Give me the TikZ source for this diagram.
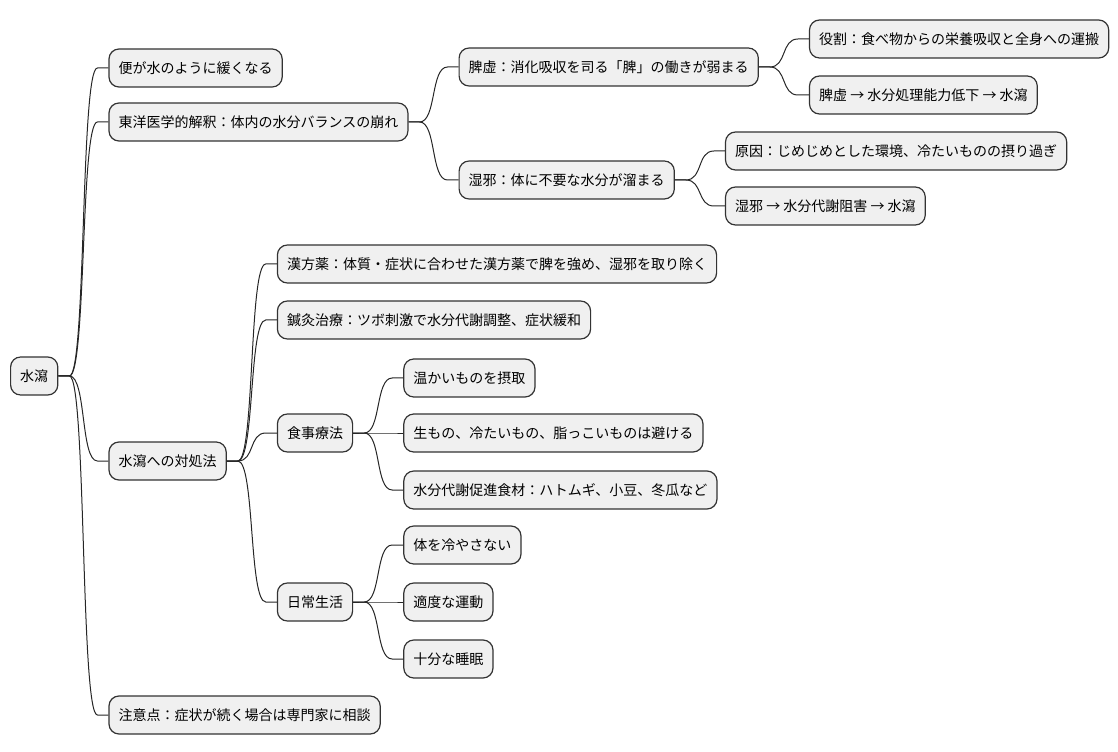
\documentclass[tikz,border=0pt]{standalone}
\usepackage{fontspec}
\setmainfont{Noto Sans CJK JP}
\usetikzlibrary{positioning}

\begin{document}
\begin{tikzpicture}[x=0.75pt, y=-0.75pt]
    \tikzstyle{box}=[rectangle, rounded corners=7.5pt, draw=black!80, fill=black!6, line width=0.9pt, minimum height=28.5pt, inner xsep=7.2pt, font=\fontsize{10.5pt}{12pt}\selectfont]
    \tikzstyle{connect}=[line width=0.75pt, draw=black!85, to path={-- ++(11,0) .. controls +(17,0) and ([xshift=-21pt]\tikztotarget.west) .. ([xshift=-8.25pt]\tikztotarget.west) -- (\tikztotarget.west)}]
    \tikzset{dy/.style={yshift={-(#1)*0.75pt}}}
    \useasboundingbox (0,0) rectangle (1118,752);
      \node[box, anchor=west] (root) at (10,376) {水瀉};
      \node[box, right=37.5pt of root, dy=-308] (ben) {便が水のように緩くなる};
      \node[box, right=37.5pt of root, dy=-254] (toyo) {東洋医学的解釈：体内の水分バランスの崩れ};
      \node[box, right=37.5pt of toyo, dy=-55] (hikyo) {脾虚：消化吸収を司る「脾」の働きが弱まる};
      \node[box, right=37.5pt of hikyo, dy=-28] (yakuwari) {役割：食べ物からの栄養吸収と全身への運搬};
      \node[box, right=37.5pt of hikyo, dy=28] (hikyoflow) {脾虚 → 水分処理能力低下 → 水瀉};
      \node[box, right=37.5pt of toyo, dy=58] (shitsuja) {湿邪：体に不要な水分が溜まる};
      \node[box, right=37.5pt of shitsuja, dy=-29] (genin) {原因：じめじめとした環境、冷たいものの摂り過ぎ};
      \node[box, right=37.5pt of shitsuja, dy=26] (shitsujaflow) {湿邪 → 水分代謝阻害 → 水瀉};
      \node[box, right=37.5pt of root, dy=85] (taisho) {水瀉への対処法};
      \node[box, right=37.5pt of taisho, dy=-197] (kampo) {漢方薬：体質・症状に合わせた漢方薬で脾を強め、湿邪を取り除く};
      \node[box, right=37.5pt of taisho, dy=-141] (shinkyu) {鍼灸治療：ツボ刺激で水分代謝調整、症状緩和};
      \node[box, right=37.5pt of taisho, dy=-28] (shokuji) {食事療法};
      \node[box, right=37.5pt of shokuji, dy=-55] (onshoku) {温かいものを摂取};
      \node[box, right=37.5pt of shokuji, dy=0] (sakeru) {生もの、冷たいもの、脂っこいものは避ける};
      \node[box, right=37.5pt of shokuji, dy=57] (shokuzai) {水分代謝促進食材：ハトムギ、小豆、冬瓜など};
      \node[box, right=37.5pt of taisho, dy=141] (seikatsu) {日常生活};
      \node[box, right=37.5pt of seikatsu, dy=-57] (hiyasanai) {体を冷やさない};
      \node[box, right=37.5pt of seikatsu, dy=0] (undo) {適度な運動};
      \node[box, right=37.5pt of seikatsu, dy=57] (suimin) {十分な睡眠};
      \node[box, right=37.5pt of root, dy=339] (chui) {注意点：症状が続く場合は専門家に相談};
      \path
        (root.east) edge [connect] (ben)
        (root.east) edge [connect] (toyo)
        (root.east) edge [connect] (taisho)
        (root.east) edge [connect] (chui)
        (toyo.east) edge [connect] (hikyo)
        (toyo.east) edge [connect] (shitsuja)
        (hikyo.east) edge [connect] (yakuwari)
        (hikyo.east) edge [connect] (hikyoflow)
        (shitsuja.east) edge [connect] (genin)
        (shitsuja.east) edge [connect] (shitsujaflow)
        (taisho.east) edge [connect] (kampo)
        (taisho.east) edge [connect] (shinkyu)
        (taisho.east) edge [connect] (shokuji)
        (taisho.east) edge [connect] (seikatsu)
        (shokuji.east) edge [connect] (onshoku)
        (shokuji.east) edge [connect] (sakeru)
        (shokuji.east) edge [connect] (shokuzai)
        (seikatsu.east) edge [connect] (hiyasanai)
        (seikatsu.east) edge [connect] (undo)
        (seikatsu.east) edge [connect] (suimin);
\end{tikzpicture}
\end{document}
